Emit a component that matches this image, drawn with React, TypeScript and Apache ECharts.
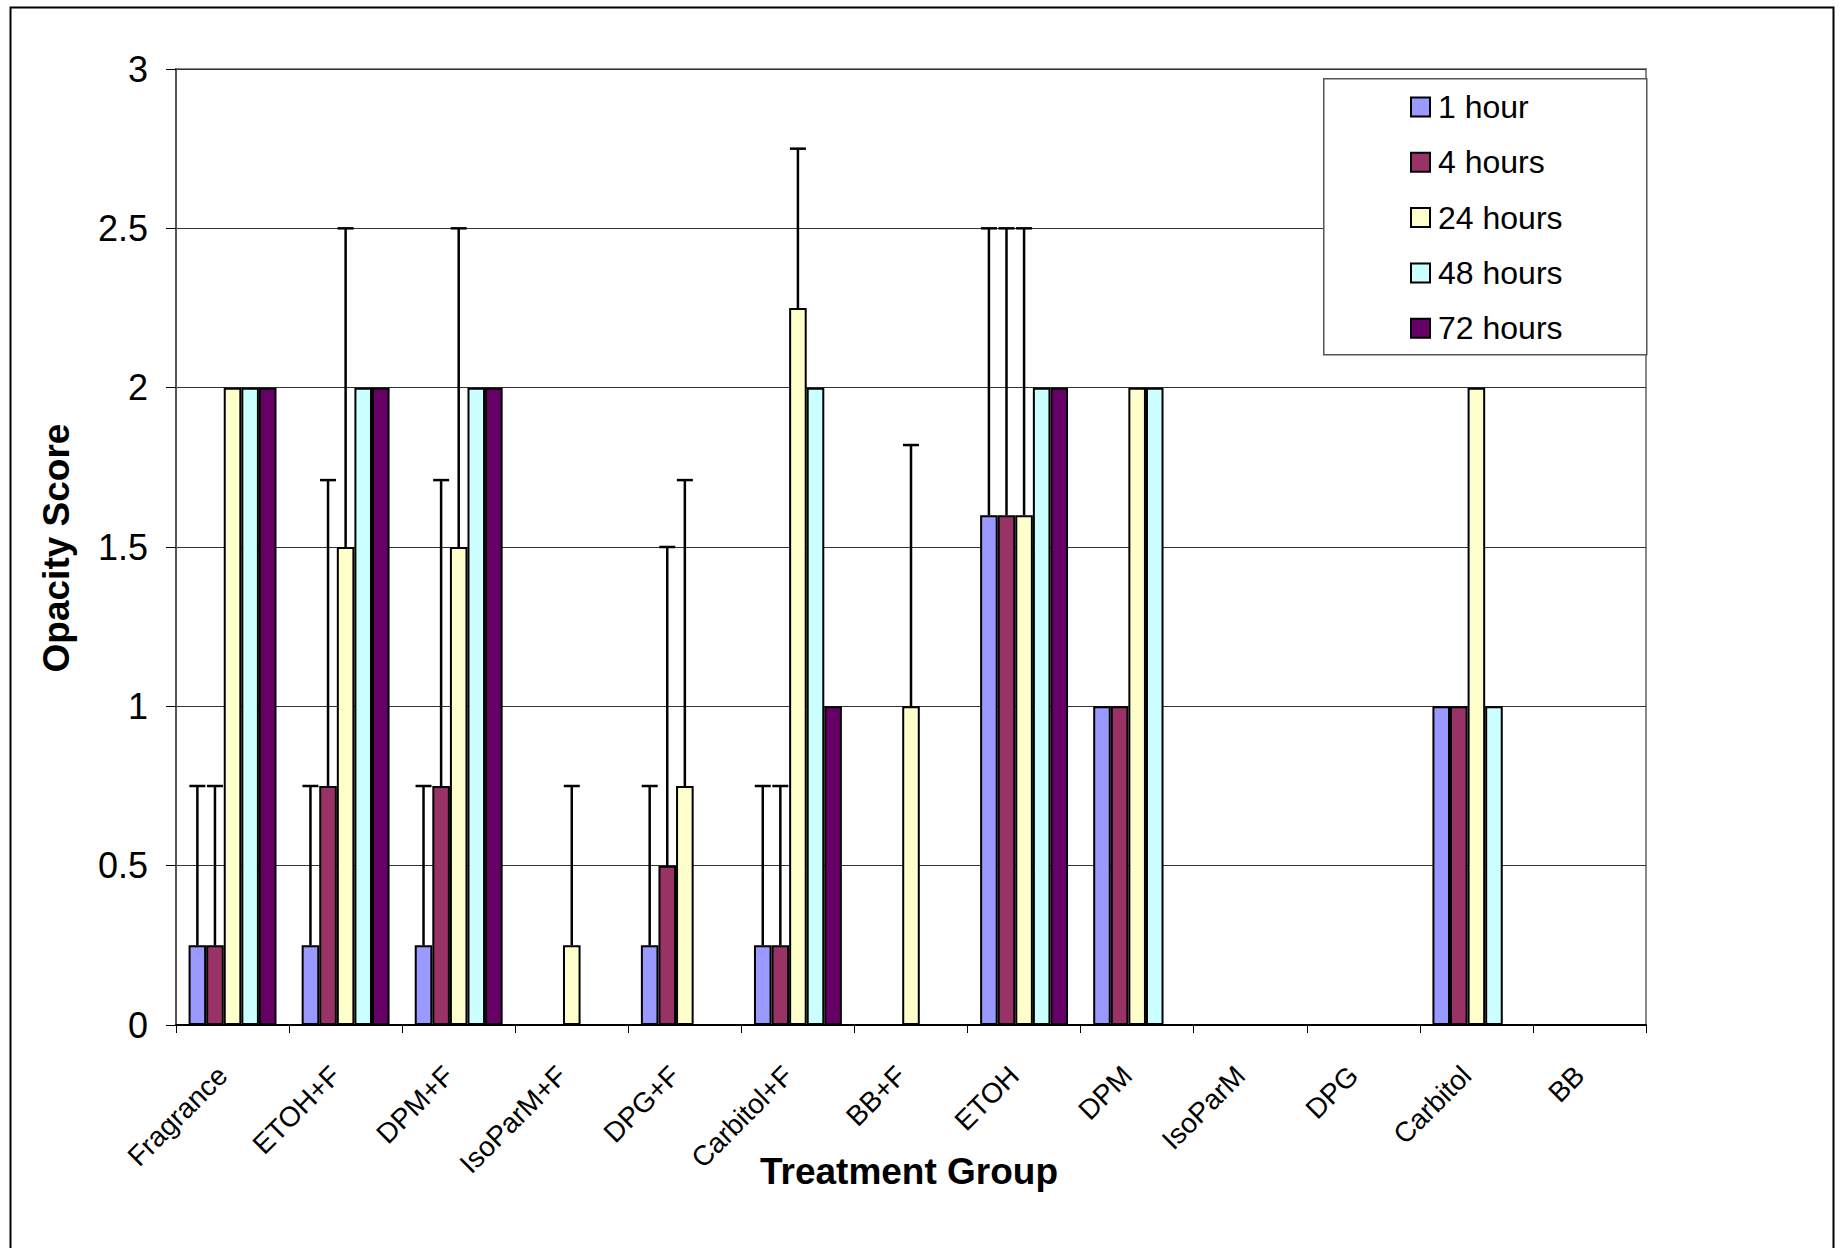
import React, { useEffect, useRef } from "react";
import * as echarts from "echarts";

const categories = ["Fragrance", "ETOH+F", "DPM+F", "IsoParM+F", "DPG+F", "Carbitol+F", "BB+F", "ETOH", "DPM", "IsoParM", "DPG", "Carbitol", "BB"];
const seriesNames = ["1 hour", "4 hours", "24 hours", "48 hours", "72 hours"];
const seriesColors = ["#9999FF", "#993366", "#FFFFCC", "#CCFFFF", "#660066"];

const hour1 = [0.25, 0.25, 0.25, 0, 0.25, 0.25, 0, 1.6, 1, 0, 0, 1, 0];
const hour4 = [0.25, 0.75, 0.75, 0, 0.5, 0.25, 0, 1.6, 1, 0, 0, 1, 0];
const hour24 = [2, 1.5, 1.5, 0.25, 0.75, 2.25, 1, 1.6, 2, 0, 0, 2, 0];
const hour48 = [2, 2, 2, null, null, 2, null, 2, 2, null, null, 1, null];
const hour72 = [2, 2, 2, null, null, 1, null, 2, null, null, null, null, null];

// plus-direction error amounts
const err1 = [0.5, 0.5, 0.5, null, 0.5, 0.5, null, 0.9, null, null, null, null, null];
const err4 = [0.5, 0.96, 0.96, null, 1.0, 0.5, null, 0.9, null, null, null, null, null];
const err24 = [null, 1.0, 1.0, 0.5, 0.96, 0.5, 0.82, 0.9, null, null, null, null, null];
const err48 = [null, null, null, null, null, null, null, null, null, null, null, null, null];
const err72 = [null, null, null, null, null, null, null, null, null, null, null, null, null];

const yTicks = [0, 0.5, 1, 1.5, 2, 2.5, 3];

const xTitle = "Treatment Group";
const yTitle = "Opacity Score";

const FONT = "'Liberation Sans', Arial, sans-serif";
const BAR_FRAC = 0.1555;

export default function App() {
  const ref = useRef<HTMLDivElement>(null);
  useEffect(() => {
    if (!ref.current) return;
    const chart = echarts.init(ref.current, undefined, { renderer: "svg" });
    const values = [hour1, hour4, hour24, hour48, hour72];
    const errs = [err1, err4, err24, err48, err72];
    const errData: any[] = [];
    errs.forEach((arr, s) => {
      arr.forEach((e, i) => {
        const v = values[s][i];
        if (e != null && v != null) errData.push([i, v, v + e, s]);
      });
    });
    const barSeries = seriesNames.map((name, s) => ({
      name,
      type: "bar",
      data: values[s],
      barWidth: (BAR_FRAC * 100).toFixed(2) + "%",
      barGap: "0%",
      itemStyle: { color: seriesColors[s], borderColor: "#000", borderWidth: 2 },
      z: 2,
    }));
    chart.setOption({
      animation: false,
      backgroundColor: "#fff",
      textStyle: { fontFamily: FONT },
      grid: { left: 176, right: 197, top: 69, bottom: 223, show: true, borderColor: "#888", borderWidth: 2 },
      legend: {
        orient: "vertical",
        left: 1405,
        top: 86,
        z: 20,
        itemWidth: 19,
        itemHeight: 19,
        itemGap: 23.3,
        icon: "rect",
        data: seriesNames,
        textStyle: { fontFamily: FONT, fontSize: 32, color: "#000", lineHeight: 31, padding: [0, 0, 0, 3] },
        itemStyle: { borderColor: "#000", borderWidth: 2 },
      },
      xAxis: {
        type: "category",
        data: categories,
        axisLine: { lineStyle: { color: "#000", width: 2 } },
        axisTick: { show: true, length: 8, lineStyle: { color: "#000", width: 1 } },
        axisLabel: { rotate: 45, interval: 0, margin: 36, padding: [0, 14, 0, 0], fontSize: 28, color: "#000", fontFamily: FONT },
        splitLine: { show: false },
      },
      yAxis: {
        type: "value",
        min: 0,
        max: 3,
        interval: 0.5,
        axisLine: { show: true, lineStyle: { color: "#555", width: 2 } },
        axisTick: { show: true, length: 10, lineStyle: { color: "#000", width: 1 } },
        axisLabel: {
          margin: 28,
          fontSize: 36,
          color: "#000",
          fontFamily: FONT,
          formatter: (v: number) => (yTicks.includes(v) ? String(v) : ""),
        },
        splitLine: { show: true, lineStyle: { color: "#333", width: 1 } },
      },
      graphic: [
        {
          type: "rect",
          left: 8,
          top: 5,
          shape: { width: 1823, height: 1280 },
          style: { fill: "none", stroke: "#000", lineWidth: 2 },
          silent: true,
          z: -10,
        },
        {
          type: "rect",
          left: 1323,
          top: 78,
          shape: { width: 323, height: 276 },
          style: { fill: "#fff", stroke: "#555", lineWidth: 1.5 },
          silent: true,
          z: 3,
        },
        {
          type: "text",
          x: 909,
          y: 1171,
          style: { text: xTitle, font: "bold 37px " + FONT, fill: "#000", textAlign: "center", textVerticalAlign: "middle" },
          z: 5,
        },
        {
          type: "text",
          x: 56,
          y: 548,
          rotation: Math.PI / 2,
          style: { text: yTitle, font: "bold 37px " + FONT, fill: "#000", textAlign: "center", textVerticalAlign: "middle" },
          z: 5,
        },
      ],
      series: [
        ...barSeries,
        {
          type: "custom",
          name: "err",
          data: errData,
          encode: { x: 0, y: 1 },
          z: 10,
          renderItem: (params: any, api: any) => {
            const cat = api.value(0);
            const val = api.value(1);
            const up = api.value(2);
            const s = api.value(3);
            const bandW = api.size([1, 0])[0];
            const base = api.coord([cat, val]);
            const top = api.coord([cat, up]);
            const x = base[0] + (s - 2) * bandW * BAR_FRAC;
            const cap = 8;
            return {
              type: "group",
              children: [
                { type: "line", shape: { x1: x, y1: base[1], x2: x, y2: top[1] }, style: { stroke: "#000", lineWidth: 2.5 } },
                { type: "line", shape: { x1: x - cap, y1: top[1], x2: x + cap, y2: top[1] }, style: { stroke: "#000", lineWidth: 2.5 } },
              ],
            };
          },
        },
      ],
    });
    return () => chart.dispose();
  }, []);
  return <div ref={ref} style={{ position: "fixed", left: 0, top: 0, width: 1843, height: 1248 }} />;
}
